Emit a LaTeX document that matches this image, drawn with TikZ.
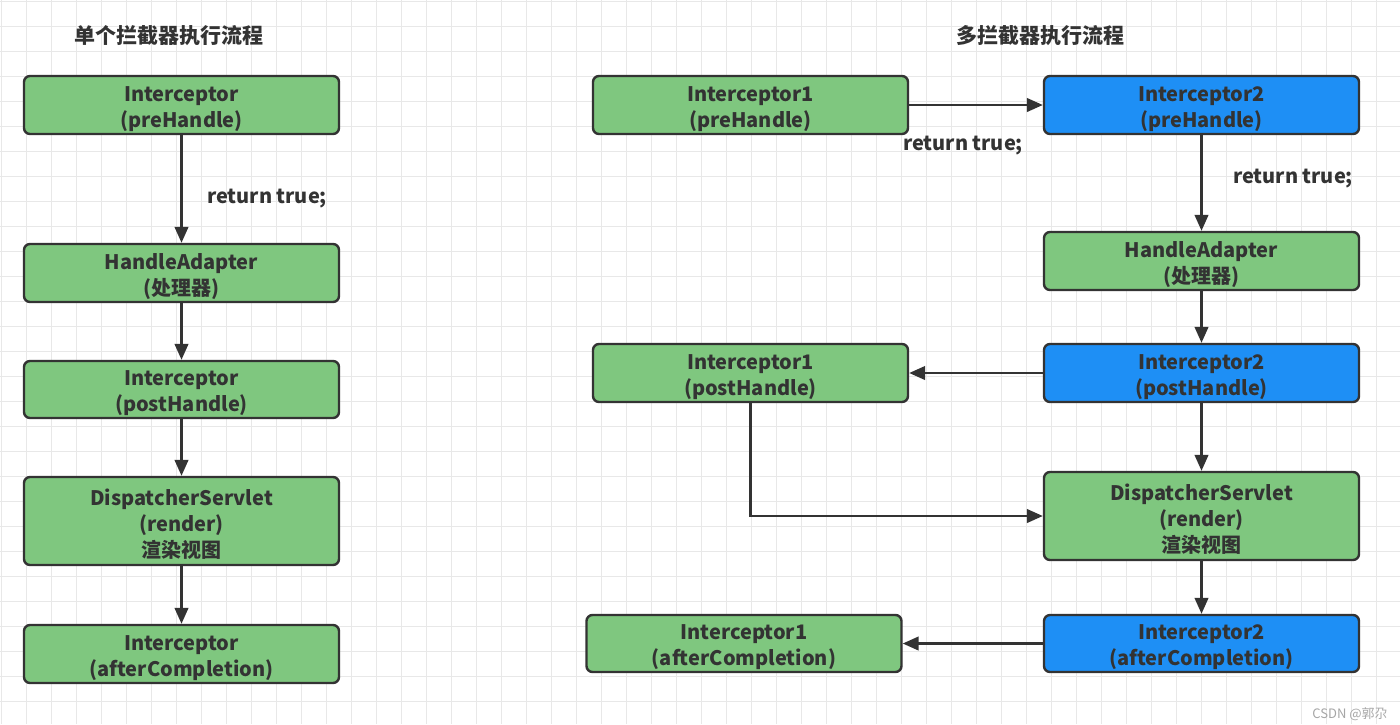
\documentclass[tikz,border=0pt]{standalone}
\usepackage{fontspec}
\setmainfont{Noto Sans CJK SC}
\usetikzlibrary{arrows.meta}
\definecolor{gfill}{HTML}{7FC77F}
\definecolor{bfill}{HTML}{1E8FF5}
\definecolor{edge}{HTML}{333333}
\definecolor{txt}{HTML}{333333}
\definecolor{gridc}{HTML}{E8E8E8}
\newcommand{\tpstrut}{\rule{0pt}{11.5pt}}
\tikzset{
  greenbox/.style={draw=edge, line width=1.2pt, rounded corners=3pt, fill=gfill,
    minimum width=157.5pt, minimum height=29pt, inner sep=0pt, align=center,
    text=txt, font=\fontsize{10pt}{13pt}\selectfont\bfseries},
  bluebox/.style={greenbox, fill=bfill},
  conn/.style={draw=edge, line width=1.2pt, -{Triangle[length=8pt,width=6.8pt]}},
  lbl/.style={text=txt, font=\fontsize{10pt}{13pt}\selectfont\bfseries, inner sep=0pt},
  ttl/.style={text=txt, font=\fontsize{10.5pt}{13pt}\selectfont\bfseries, inner sep=0pt}
}
\begin{document}
\begin{tikzpicture}[x=0.5pt, y=-0.5pt]
\useasboundingbox (0,0) rectangle (1400,724);
\fill[white] (0,0) rectangle (1400,724);
\foreach \i in {0,...,55} {\draw[gridc, line width=0.5pt] (1.7+25*\i,0) -- (1.7+25*\i,724);}
\foreach \j in {0,...,28} {\draw[gridc, line width=0.5pt] (0,1.7+25*\j) -- (1400,1.7+25*\j);}

% titles
\node[ttl] (t1) at (169,36) {单个拦截器执行流程};
\node[ttl] (t2) at (1040,36) {多拦截器执行流程};

% left column
\node[greenbox] (L1) at (181.5,105) {\tpstrut Interceptor\\(preHandle)};
\node[greenbox] (L2) at (181.5,273) {\tpstrut HandleAdapter\\(处理器)};
\node[greenbox, minimum height=28.5pt] (L3) at (181.5,389.5) {\tpstrut Interceptor\\(postHandle)};
\node[greenbox, minimum height=44pt] (L4) at (181.5,521) {\tpstrut DispatcherServlet\\(render)\\渲染视图};
\node[greenbox] (L5) at (181.5,654) {\tpstrut Interceptor\\(afterCompletion)};

\draw[conn] (L1) -- (L2);
\draw[conn] (L2) -- (L3);
\draw[conn] (L3) -- (L4);
\draw[conn] (L4) -- (L5);
\node[lbl] (r0) at (267,199) {return true;};

% right part
\node[greenbox] (R1) at (750.5,105) {\tpstrut Interceptor1\\(preHandle)};
\node[bluebox] (R2) at (1201.5,105) {\tpstrut Interceptor2\\(preHandle)};
\node[greenbox] (R3) at (1201.5,261) {\tpstrut HandleAdapter\\(处理器)};
\node[greenbox] (R4) at (750.5,373) {\tpstrut Interceptor1\\(postHandle)};
\node[bluebox] (R5) at (1201.5,373) {\tpstrut Interceptor2\\(postHandle)};
\node[greenbox, minimum height=44pt] (R6) at (1201.5,516) {\tpstrut DispatcherServlet\\(render)\\渲染视图};
\node[greenbox, minimum height=28.5pt] (R7) at (744,643.5) {\tpstrut Interceptor1\\(afterCompletion)};
\node[bluebox, minimum height=28.5pt] (R8) at (1201.5,643.5) {\tpstrut Interceptor2\\(afterCompletion)};

\draw[conn] (R1) -- (R2);
\draw[conn] (R2) -- (R3);
\draw[conn] (R3) -- (R5);
\draw[conn] (R5) -- (R4);
\draw[conn] (R4.south) |- (R6.west);
\draw[conn] (R5) -- (R6);
\draw[conn] (R6) -- (R8);
\draw[conn] (R8) -- (R7);
\node[lbl] (r1) at (963,146) {return true;};
\node[lbl] (r2) at (1293,179) {return true;};

% watermark
\node[text=gray!70, font=\fontsize{6.5pt}{8pt}\selectfont, anchor=east, inner sep=0pt] (wm) at (1388,714) {CSDN @郭尕};
\end{tikzpicture}
\end{document}
